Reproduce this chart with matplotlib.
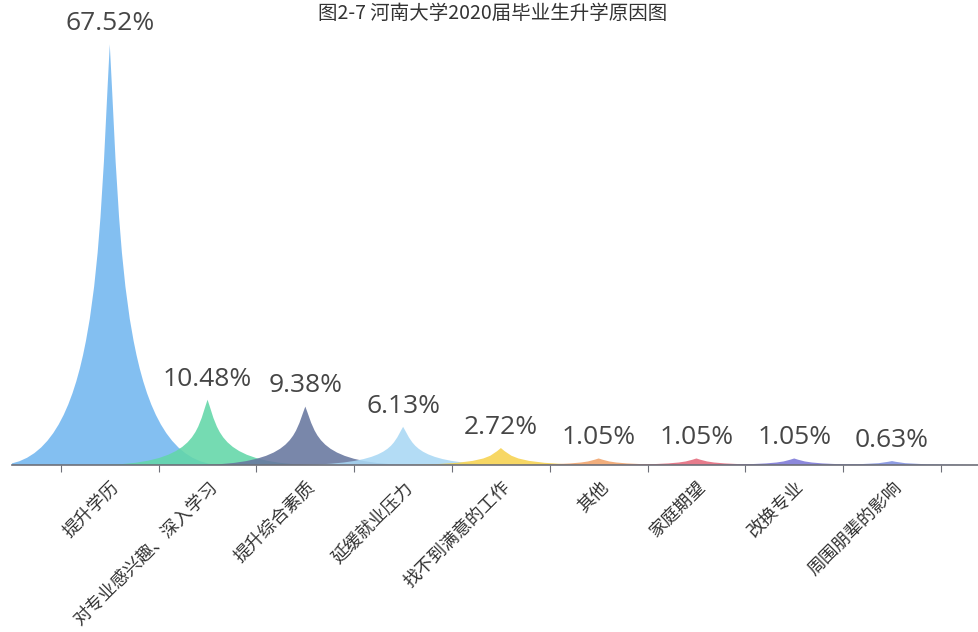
import matplotlib.pyplot as plt
from matplotlib.path import Path
from matplotlib.patches import PathPatch

plt.rcParams['font.family'] = ['Noto Sans CJK SC', 'DejaVu Sans']

# 数据
categories = ['提升学历', '对专业感兴趣、深入学习', '提升综合素质', '延缓就业压力',
              '找不到满意的工作', '其他', '家庭期望', '改换专业', '周围朋辈的影响']
values = [67.52, 10.48, 9.38, 6.13, 2.72, 1.05, 1.05, 1.05, 0.63]
colors = ['#72b6f0', '#62d6a8', '#67769f', '#a9d8f4', '#f6d24e',
          '#f1a36a', '#e46a7c', '#7c78d8', '#7f8fe0']


def spike(cx, h, w):
    '''
    尖峰形状 (pictorialBar 那种)
    '''
    x0 = cx - w / 2
    verts = [
        (x0, 0), (x0 + w, 0),
        (x0 + 0.55 * w, 0), (x0 + 0.55 * w, 0.5 * h), (cx, h),
        (x0 + 0.45 * w, 0.5 * h), (x0 + 0.45 * w, 0), (x0, 0),
        (x0, 0),
    ]
    codes = [Path.MOVETO, Path.LINETO,
             Path.CURVE4, Path.CURVE4, Path.CURVE4,
             Path.CURVE4, Path.CURVE4, Path.CURVE4,
             Path.CLOSEPOLY]
    return Path(verts, codes)


fig = plt.figure(figsize=(9.79, 6.32), dpi=100)
ax = fig.add_axes([12 / 979, 1 - 465 / 632, 967 / 979, 436 / 632])

for i, (v, c) in enumerate(zip(values, colors)):
    ax.add_patch(PathPatch(spike(i, v, 2.3), facecolor=c, edgecolor='none', alpha=0.88))
    ax.text(i, v + 1.3, '%.2f%%' % v, ha='center', va='bottom', fontsize=19,
            color='#464646', family=['Open Sans', 'DejaVu Sans'])

ax.set_xlim(-1.0, 8.89)
ax.set_ylim(0, 70)

for s in ['top', 'right', 'left']:
    ax.spines[s].set_visible(False)
ax.spines['bottom'].set_color('#6e7079')
ax.spines['bottom'].set_linewidth(1.2)
ax.set_yticks([])

ax.set_xticks([i - 0.5 for i in range(10)])
ax.set_xticklabels([])
ax.tick_params(axis='x', length=5, color='#6e7079')

# 类目标签 (斜 45 度)
for i, name in enumerate(categories):
    ax.annotate(name, xy=(i, 0), xycoords='data', xytext=(5, -14), textcoords='offset points',
                rotation=45, rotation_mode='anchor', ha='right', va='center',
                fontsize=12.8, color='#333333', annotation_clip=False)

# 标题
fig.text(0.503, 0.995, '图2-7 河南大学2020届毕业生升学原因图', ha='center', va='top',
         fontsize=14, color='#333333')

plt.savefig('out.png')
